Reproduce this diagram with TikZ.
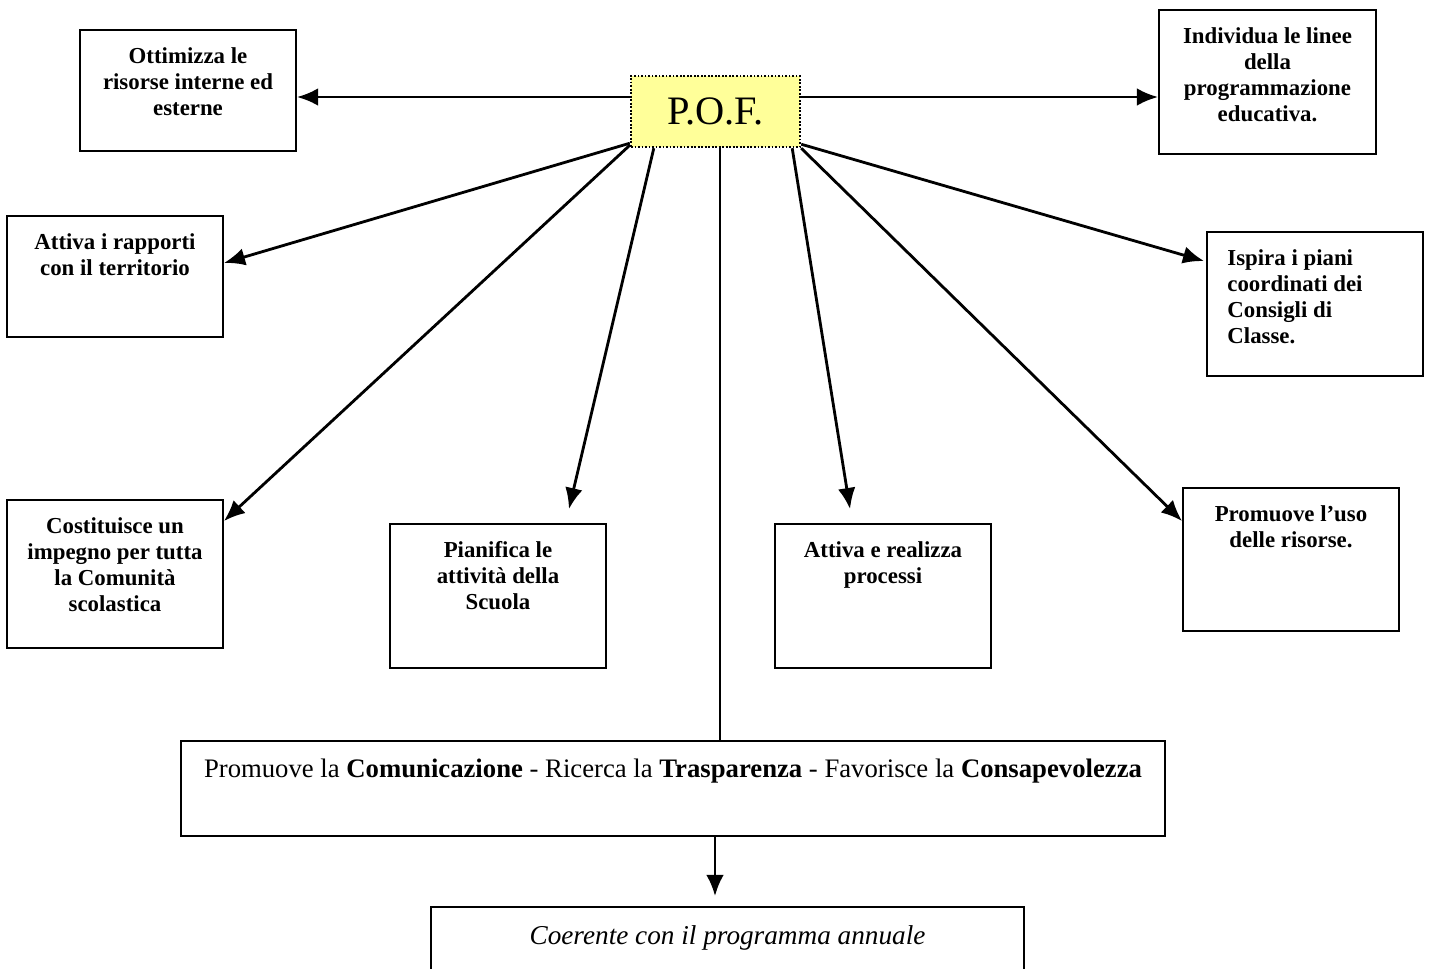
\documentclass[tikz,border=0pt]{standalone}
\usepackage{fontspec}
\setmainfont{Liberation Serif}
\usetikzlibrary{arrows.meta, positioning, calc}
\definecolor{giallino}{RGB}{255,255,153}
\tikzset{>={Latex[length=12pt,width=10pt]}}
\tikzset{
  box/.style={draw, line width=1.1pt, minimum width=4.32cm, minimum height=2.42cm, inner sep=0pt},
  tbox/.style={font=\bfseries\fontsize{13}{14.8}\selectfont, align=center, inner sep=0pt},
  freccia/.style={->, line width=1.6pt},
}
\begin{document}
\begin{tikzpicture}[x=0.02cm, y=-0.02cm]
  \useasboundingbox (0,0) rectangle (1430,968);
  \clip (0,0) rectangle (1430,968);
  \fill[white] (0,0) rectangle (1430,968);

  % centro
  \node[draw, dash pattern=on 1pt off 1pt, line width=1.4pt, fill=giallino, minimum width=3.38cm, minimum height=1.42cm, font=\fontsize{23}{26}\selectfont] (pof) at (715.5,111.5) {P.O.F.};

  % riquadri
  \node[box] (ott) at (188,90.5) {};
  \node[tbox, below=0.36cm of ott.north] {Ottimizza le\\risorse interne ed\\esterne};
  \node[box, minimum width=4.34cm, minimum height=2.88cm] (ind) at (1267.5,82) {};
  \node[tbox, below=0.36cm of ind.north] {Individua le linee\\della\\programmazione\\educativa.};
  \node[box] (att) at (115,276.5) {};
  \node[tbox, below=0.36cm of att.north] {Attiva i rapporti\\con il territorio};
  \node[box, minimum height=2.88cm] (isp) at (1315,304) {};
  \node[tbox, align=left, below right=0.36cm and 0.42cm of isp.north west] {Ispira i piani\\coordinati dei\\Consigli di\\Classe.};
  \node[box, minimum height=2.96cm] (cost) at (115,574) {};
  \node[tbox, below=0.36cm of cost.north] {Costituisce un\\impegno per tutta\\la Comunit\`a\\scolastica};
  \node[box, minimum height=2.88cm] (pian) at (498,596) {};
  \node[tbox, below=0.36cm of pian.north] {Pianifica le\\attivit\`a della\\Scuola};
  \node[box, minimum height=2.88cm] (attr) at (883,596) {};
  \node[tbox, below=0.36cm of attr.north] {Attiva e realizza\\processi};
  \node[box, minimum height=2.86cm] (usr) at (1291,559.5) {};
  \node[tbox, below=0.36cm of usr.north] {Promuove l’uso\\delle risorse.};

  \node[box, minimum width=19.68cm, minimum height=1.9cm] (prom) at (673,788.5) {};
  \node[inner sep=0pt, font=\fontsize{15.2}{18}\selectfont, below=0.38cm of prom.north] {Promuove la \textbf{Comunicazione} - Ricerca la \textbf{Trasparenza} - Favorisce la \textbf{Consapevolezza}};
  \node[box, minimum width=11.86cm, minimum height=2.4cm] (coer) at (727.5,967) {};
  \node[inner sep=0pt, font=\itshape\fontsize{15.5}{18}\selectfont, below=0.38cm of coer.north] {Coerente con il programma annuale};

  % frecce
  \coordinate (pofl) at ($(pof.west)+(0,-14.5)$);
  \coordinate (pofr) at ($(pof.east)+(0,-14.5)$);
  \coordinate (pofm) at ($(pof.south)+(4.5,0)$);
  \coordinate (promb) at ($(prom.south)+(42,0)$);
  \draw[freccia] (pofl) -- (pofl -| ott.east);
  \draw[freccia] (pofr) -- (pofr -| ind.west);
  \draw[freccia] ($(pof.south west)+(0,-5)$) -- ($(att.east)+(0,-13.5)$);
  \draw[freccia] ($(pof.south west)+(0,-3)$) -- ($(cost.north east)+(0,22)$);
  \draw[freccia] ($(pof.south west)+(24,0)$) -- ($(pian.north east)+(-38,-14)$);
  \draw[line width=1.6pt] (pofm) -- (pofm |- prom.north);
  \draw[freccia] ($(pof.south east)+(-9,0)$) -- ($(attr.north west)+(76,-14)$);
  \draw[freccia] ($(pof.south east)+(0,-4)$) -- ($(isp.north west)+(-2,30)$);
  \draw[freccia] (pof.south east) -- ($(usr.north west)+(0,34)$);
  \draw[freccia, shorten >=0.2cm] (promb) -- (promb |- coer.north);
\end{tikzpicture}
\end{document}
